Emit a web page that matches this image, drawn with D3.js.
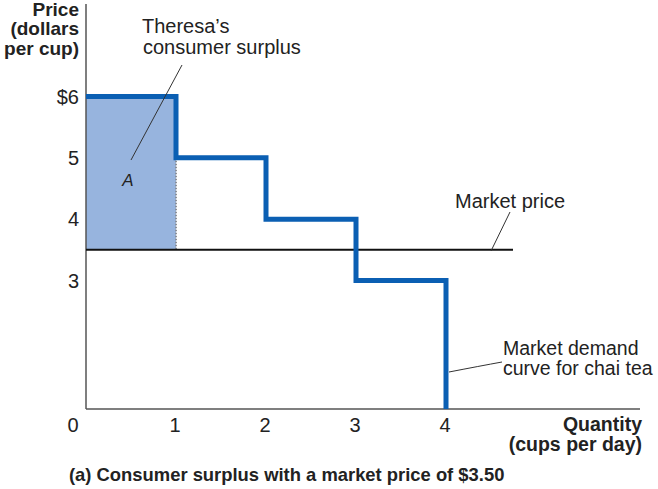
<!DOCTYPE html>
<html><head><meta charset="utf-8">
<script src="https://cdn.jsdelivr.net/npm/d3@7"></script>
<style>body{margin:0;background:#fff}svg{display:block}text{font-family:"Liberation Sans",Arial,sans-serif;fill:#222}</style>
</head><body>
<script>
// Data
const quantities = [0, 1, 2, 3, 4];
const demandPrices = [6, 5, 4, 3];          // willingness to pay for cup 1..4
const marketPrice = [3.5];
const yTickValues = [6, 5, 4, 3];
const yTickLabels = ["$6", "5", "4", "3"];
const xTickLabels = ["0", "1", "2", "3", "4"];

const W = 658, H = 489;
const svg = d3.select("body").append("svg").attr("width", W).attr("height", H);

const x = d3.scaleLinear().domain([0, 4]).range([86, 446]);
// broken price axis: 0 sits at the x-axis, 3..6 evenly spaced
const y = d3.scaleLinear().domain([0, 3, 6]).range([409, 280.5, 96.5]);

// consumer surplus area (first cup)
svg.append("rect")
  .attr("x", x(0)).attr("y", y(demandPrices[0]))
  .attr("width", x(1) - x(0)).attr("height", y(marketPrice[0]) - y(demandPrices[0]))
  .attr("fill", "#97b4de");
svg.append("line")
  .attr("x1", x(1)).attr("x2", x(1)).attr("y1", y(demandPrices[1])).attr("y2", y(marketPrice[0]))
  .attr("stroke", "#8a8f99").attr("stroke-width", 2).attr("stroke-dasharray", "1.5,1.5");

// axes
svg.append("line").attr("x1", x(0)).attr("x2", x(0)).attr("y1", 4).attr("y2", y(0))
  .attr("stroke", "#555").attr("stroke-width", 1.5);
svg.append("line").attr("x1", x(0)).attr("x2", 640).attr("y1", y(0)).attr("y2", y(0))
  .attr("stroke", "#555").attr("stroke-width", 1.5);

// market price line
svg.append("line").attr("x1", x(0)).attr("x2", 513).attr("y1", y(marketPrice[0])).attr("y2", y(marketPrice[0]))
  .attr("stroke", "#111").attr("stroke-width", 2);

// demand step curve
const pts = [];
demandPrices.forEach((p, i) => { pts.push([quantities[i], p]); pts.push([quantities[i + 1], p]); });
pts.push([quantities[4], 0]);
svg.append("path")
  .attr("d", d3.line().x(d => x(d[0])).y(d => y(d[1]))(pts))
  .attr("fill", "none").attr("stroke", "#0b5fb3").attr("stroke-width", 5)
  .attr("stroke-linejoin", "miter").attr("stroke-linecap", "butt");

// y tick labels
svg.selectAll(".yt").data(yTickValues).enter().append("text")
  .attr("x", 79).attr("y", d => y(d)).attr("dy", "0.36em").attr("text-anchor", "end")
  .attr("font-size", 20).text((d, i) => yTickLabels[i]);
// x tick labels
svg.selectAll(".xt").data(quantities).enter().append("text")
  .attr("x", d => d === 0 ? x(d) - 13 : x(d) - 1).attr("y", 432).attr("text-anchor", "middle")
  .attr("font-size", 20).text((d, i) => xTickLabels[i]);

// axis titles
const yt = svg.append("text").attr("text-anchor", "end").attr("font-size", 19).attr("font-weight", "bold");
[["Price", 15.5], ["(dollars", 35], ["per cup)", 54.5]].forEach(([t, yy]) =>
  yt.append("tspan").attr("x", 79).attr("y", yy).text(t));
const xt = svg.append("text").attr("text-anchor", "end").attr("font-size", 19.5).attr("font-weight", "bold");
[["Quantity", 430.5], ["(cups per day)", 450.5]].forEach(([t, yy]) =>
  xt.append("tspan").attr("x", 642).attr("y", yy).text(t));

// annotations
const ann = svg.append("g").attr("font-size", 20);
ann.append("text").attr("x", 142).attr("y", 33).text("Theresa\u2019s");
ann.append("text").attr("x", 143).attr("y", 54).text("consumer surplus");
svg.append("line").attr("x1", 182).attr("y1", 65).attr("x2", 131).attr("y2", 160).attr("stroke", "#333").attr("stroke-width", 1);
svg.append("text").attr("x", 128).attr("y", 186).attr("text-anchor", "middle").attr("font-size", 17).attr("font-style", "italic").text("A");

ann.append("text").attr("x", 455).attr("y", 208).text("Market price");
svg.append("line").attr("x1", 510).attr("y1", 212).attr("x2", 491).attr("y2", 251).attr("stroke", "#333").attr("stroke-width", 1);

ann.append("text").attr("x", 503).attr("y", 355).attr("font-size", 19.5).text("Market demand");
ann.append("text").attr("x", 503).attr("y", 375).attr("font-size", 19.5).text("curve for chai tea");
svg.append("path").attr("d", "M449,372 Q480,366 502,362").attr("fill", "none").attr("stroke", "#333").attr("stroke-width", 1);

// caption
svg.append("text").attr("x", 69).attr("y", 481).attr("font-size", 18.4).attr("font-weight", "bold")
  .text("(a) Consumer surplus with a market price of $3.50");
</script>
</body></html>
